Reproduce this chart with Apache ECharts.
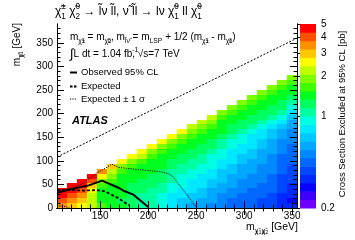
<!DOCTYPE html>
<html><head><meta charset="utf-8">
<script src="https://cdn.jsdelivr.net/npm/echarts@6/dist/echarts.min.js"></script>
<style>html,body{margin:0;padding:0;background:#fff}#c{width:355px;height:240px}</style>
</head><body><div id="c"></div>
<script>
// ---- data ----
const xBinCenters = [110.2,120.6,131.0,141.5,151.9,162.3,172.7,183.1,193.5,204.0,214.4,224.8,235.2,245.6,256.0,266.5,276.9,287.3,297.7,308.1,318.5,329.0,339.4,349.8];
const yBinCenters = [5.2,15.6,26.0,36.5,46.9,57.3,67.7,78.1,88.5,99.0,109.4,119.8,130.2,140.6,151.0,161.5,171.9,182.3,192.7,203.1,213.5,224.0,234.4,244.8,255.2,265.6,276.0];
const binWidth = 10.42;
// excluded cross section [pb], one array per x bin, from lowest y bin upward
const xsecExcluded = [
 [3.5,4.0,4.6,4.7],
 [3.0,3.5,4.0,4.6,4.7],
 [2.6,3.0,3.5,4.0,4.6,4.7],
 [2.2,2.25,2.3,2.6,3.0,4.0,4.6],
 [1.65,1.45,1.45,1.5,1.65,1.95,2.6,3.5],
 [1.45,1.42,1.44,1.45,1.5,1.68,1.93,2.25,3.0],
 [1.4,1.3,1.38,1.42,1.44,1.46,1.5,1.65,1.9,2.6],
 [1.25,1.24,1.26,1.28,1.3,1.4,1.44,1.48,1.66,1.92,2.55],
 [1.08,1.1,1.12,1.2,1.25,1.3,1.38,1.44,1.5,1.67,2.2,2.6],
 [1.05,1.06,1.08,1.12,1.2,1.25,1.3,1.38,1.44,1.5,1.67,1.93,2.6],
 [0.92,0.94,0.96,1.05,1.1,1.2,1.25,1.3,1.38,1.44,1.5,1.67,1.93,2.55],
 [0.8,0.8,0.82,0.92,0.95,1.04,1.08,1.12,1.22,1.28,1.4,1.46,1.67,1.93,2.5],
 [0.69,0.7,0.78,0.82,0.9,0.93,0.96,1.05,1.1,1.2,1.28,1.4,1.46,1.67,1.93,2.5],
 [0.6,0.67,0.7,0.78,0.8,0.84,0.9,0.95,1.05,1.1,1.2,1.28,1.4,1.46,1.67,1.93,2.2],
 [0.58,0.62,0.67,0.7,0.77,0.8,0.84,0.9,0.95,1.05,1.1,1.2,1.28,1.4,1.46,1.67,1.93,2.2],
 [0.52,0.58,0.6,0.62,0.67,0.7,0.78,0.82,0.9,0.93,0.96,1.08,1.2,1.28,1.4,1.46,1.67,1.93,2.2],
 [0.5,0.52,0.54,0.58,0.62,0.66,0.69,0.72,0.78,0.82,0.9,0.95,1.05,1.1,1.25,1.38,1.44,1.5,1.67,1.93],
 [0.44,0.46,0.5,0.53,0.58,0.6,0.62,0.67,0.7,0.77,0.8,0.84,0.9,0.95,1.08,1.2,1.28,1.4,1.46,1.67,1.93],
 [0.44,0.45,0.46,0.5,0.52,0.54,0.58,0.6,0.62,0.67,0.7,0.78,0.82,0.9,0.95,1.08,1.2,1.28,1.4,1.46,1.67,1.93],
 [0.43,0.44,0.45,0.46,0.5,0.52,0.54,0.58,0.6,0.62,0.67,0.7,0.77,0.8,0.84,0.92,1.08,1.2,1.28,1.4,1.46,1.67,1.93],
 [0.38,0.4,0.43,0.45,0.46,0.49,0.51,0.53,0.55,0.58,0.6,0.62,0.67,0.7,0.78,0.82,0.92,1.08,1.2,1.28,1.4,1.46,1.67,1.93],
 [0.37,0.38,0.4,0.43,0.44,0.45,0.47,0.49,0.51,0.53,0.55,0.58,0.6,0.62,0.67,0.7,0.8,0.92,1.08,1.2,1.28,1.4,1.46,1.67,1.93],
 [0.32,0.33,0.34,0.37,0.38,0.39,0.4,0.43,0.44,0.45,0.47,0.5,0.52,0.54,0.58,0.62,0.67,0.8,0.92,1.08,1.2,1.28,1.4,1.46,1.67,1.93],
 [0.32,0.29,0.32,0.33,0.34,0.37,0.38,0.39,0.4,0.43,0.44,0.45,0.47,0.5,0.52,0.54,0.58,0.62,0.67,0.8,0.92,1.08,1.22,1.4,1.46,1.67,1.9]
];
const observed = [[105,32],[120,40],[138,48],[152,58],[169,43],[175,36],[184,29],[200,2]];
const expected = [[105,38],[120,38],[133,37],[146,38],[155,35],[168,22],[180,6]];
const expectedPlus = [[105,35],[120,42],[132,52],[146,74],[152,80],[162,93],[169,86],[188,82],[212,77],[221,73],[226,66],[250,2]];
const expectedMinus = [[105,5],[114,3],[118,0]];
const kinematicLine = [[105,108],[355,360]];
const xTickLabels = [150,200,250,300,350];
const yTickLabels = [0,50,100,150,200,250,300,350];
const zTickLabels = [0.2,1,2,3,4,5];
const zRange = [0.2,5];
const legendNames = ['Observed 95% CL', 'Expected', 'Expected ± 1 σ'];
const palette = ['#6f00ff','#3d00ff','#0a00ff','#0028ff','#0048ff','#0068ff','#0088ff','#00a8ff','#00c8ff','#00e8ff','#00ffe0','#00ffa0','#00ff60','#00ff20','#40ff00','#80ff00','#c0ff00','#ffff00','#ffc800','#ff9000','#ff5000','#ff0000'];

// ---- build ----
const FF = '"Liberation Sans", Arial, Helvetica, sans-serif';
const lz0 = Math.log10(zRange[0]), lz1 = Math.log10(zRange[1]);
const step = (lz1 - lz0) / palette.length;
const pieces = palette.map((c, k) => ({gte: lz0 + k*step, lt: lz0 + (k+1)*step + (k === palette.length-1 ? 1 : 0), color: c}));
pieces[0].gte = -5;
const heatData = [];
xsecExcluded.forEach((col, j) => col.forEach((v, i) => heatData.push([xBinCenters[j], yBinCenters[i], Math.log10(v)])));
const barData = palette.map((c, k) => [lz0 + k*step, lz0 + (k+1)*step, lz0 + (k+0.5)*step]);
const range = (a, b, s) => { const r = []; for (let v = a; v <= b + 1e-9; v += s) r.push(v); return r; };

function rich(fs) {
  const L = Math.round(fs * 1.5);
  const s = Math.round(fs * 0.68 * 10) / 10, ss = Math.round(fs * 0.52 * 10) / 10;
  return {
    n: {fontSize: fs, lineHeight: L, fontFamily: FF, fill: '#000'},
    int: {fontSize: fs * 1.3, lineHeight: L, fontFamily: FF, fill: '#000'},
    sup: {fontSize: s, lineHeight: s, verticalAlign: 'top', fontFamily: FF, fill: '#000', width: 0.01},
    sub: {fontSize: s, lineHeight: s, verticalAlign: 'bottom', fontFamily: FF, fill: '#000'},
    subsup: {fontSize: ss, lineHeight: L * 0.75, verticalAlign: 'bottom', fontFamily: FF, fill: '#000', width: 0.01},
    subsub: {fontSize: ss, lineHeight: ss, verticalAlign: 'bottom', fontFamily: FF, fill: '#000'},
    bi: {fontSize: fs, lineHeight: L, fontFamily: FF, fontWeight: 'bold', fontStyle: 'italic', fill: '#000'}
  };
}
const CHI = 'χ\u0303', LT = 'l\u0303', NUT = 'ν\u0303';
function txt(x, y, text, fs, opts) {
  return Object.assign({type: 'text', x: x, y: y, z: 100,
    style: {text: text, rich: rich(fs), fontSize: fs, fontFamily: FF, fill: '#000',
      align: (opts && opts.align) || 'left', verticalAlign: 'middle'}}, (opts && opts.rot) ? {rotation: opts.rot} : {});
}
function sample(y, width, dash) {
  return {type: 'line', z: 100, shape: {x1: 70, y1: y, x2: 77, y2: y}, style: {stroke: '#000', lineWidth: width, lineDash: dash || null}};
}
const titleText = `{n|${CHI}}{sup|±}{sub|1}{n| ${CHI}}{sup|0}{sub|2}{n| → ${LT}ν ${LT}l, ${NUT} ${LT}l → lν ${CHI}}{sup|0}{sub|1}{n| ll ${CHI}}{sup|0}{sub|1}`;
const eqText = `{n|m}{sub|${CHI}}{subsup|±}{subsub|1}{n| = m}{sub|${CHI}}{subsup|0}{subsub|2}{n|, m}{sub|${LT}${NUT}}{n| = m}{sub|LSP}{n| + 1/2 (m}{sub|${CHI}}{subsup|±}{subsub|1}{n| - m}{sub|${CHI}}{subsup|0}{subsub|1}{n|)}`;
const lumiText = `{int|∫}{n|L dt = 1.04 fb}{sup|-1}{n|, √s=7 TeV}`;
const xTitle = `{n|m}{sub|${CHI}}{subsup|±}{subsub|1}{sub|${CHI}}{subsup|0}{subsub|2}{n| [GeV]}`;
const yTitle = `{n|m}{sub|${CHI}}{subsup|0}{subsub|1}{n| [GeV]}`;

const axLine = {show: true, lineStyle: {color: '#000', width: 1}};
const lbl = {color: '#000', fontSize: 10, fontFamily: FF};
function xa(pos, major, showLbl) {
  return {type: 'value', gridIndex: 0, position: pos, min: 105, max: 355, z: 5,
    axisLine: axLine, splitLine: {show: false},
    axisTick: {show: true, inside: true, length: major ? 7 : 3.5, lineStyle: {color: '#000'}, customValues: major ? xTickLabels : range(110, 350, 10)},
    axisLabel: showLbl ? Object.assign({customValues: xTickLabels, margin: 3}, lbl) : {show: false}};
}
function ya(pos, major, showLbl) {
  return {type: 'value', gridIndex: 0, position: pos, min: 0, max: 390, z: 5,
    axisLine: axLine, splitLine: {show: false},
    axisTick: {show: true, inside: true, length: major ? 7 : 3.5, lineStyle: {color: '#000'}, customValues: major ? yTickLabels : range(10, 380, 10)},
    axisLabel: showLbl ? Object.assign({customValues: yTickLabels, margin: 4}, lbl) : {show: false}};
}

const chart = echarts.init(document.getElementById('c'), null, {renderer: 'canvas'});
chart.setOption({
  animation: false,
  backgroundColor: '#fff',
  grid: [{left: 57, top: 24, width: 240, height: 184}, {left: 300, top: 24, width: 16, height: 184}],
  xAxis: [xa('bottom', true, true), xa('bottom', false, false), xa('top', true, false), xa('top', false, false),
    {type: 'value', gridIndex: 1, min: 0, max: 1, show: false}],
  yAxis: [ya('left', true, true), ya('left', false, false), ya('right', true, false), ya('right', false, false),
    {type: 'value', gridIndex: 1, position: 'right', min: lz0, max: lz1, z: 5,
     axisLine: {show: false}, splitLine: {show: false},
     axisTick: {show: true, inside: true, length: 3, lineStyle: {color: '#000'}, customValues: zTickLabels.map(v => Math.log10(v))},
     axisLabel: {customValues: zTickLabels.map(v => Math.log10(v)), margin: 5, color: '#000', fontSize: 10, fontFamily: FF,
       formatter: v => String(+Math.pow(10, v).toPrecision(2))}}],
  visualMap: {type: 'piecewise', show: false, dimension: 2, seriesIndex: [0, 1], pieces: pieces},
  series: [
    {type: 'custom', xAxisIndex: 0, yAxisIndex: 0, z: 1, clip: true, data: heatData,
     renderItem: (p, api) => {
       const x = api.value(0), y = api.value(1);
       const a = api.coord([x - binWidth/2, y - binWidth/2]), b = api.coord([x + binWidth/2, y + binWidth/2]);
       const x0 = Math.round(a[0]), x1 = Math.round(b[0]), y0 = Math.round(b[1]), y1 = Math.round(a[1]);
       return {type: 'rect', shape: {x: x0, y: y0, width: x1 - x0, height: y1 - y0}, style: {fill: api.visual('color')}};
     }},
    {type: 'custom', xAxisIndex: 4, yAxisIndex: 4, z: 1, data: barData,
     renderItem: (p, api) => {
       const a = api.coord([0, api.value(0)]), b = api.coord([1, api.value(1)]);
       return {type: 'rect', shape: {x: a[0], y: b[1], width: b[0] - a[0], height: a[1] - b[1] + 0.5}, style: {fill: api.visual('color')}};
     }},
    {type: 'line', name: 'kinematic', data: kinematicLine, symbol: 'none', z: 3, silent: true,
     lineStyle: {color: '#000', width: 1, type: [2, 1.6]}},
    {type: 'line', name: legendNames[2], data: expectedPlus, symbol: 'none', z: 3,
     lineStyle: {color: '#000', width: 1, type: [1.2, 1.2]}},
    {type: 'line', name: legendNames[2], data: expectedMinus, symbol: 'none', z: 3,
     lineStyle: {color: '#000', width: 1, type: [1.2, 1.2]}},
    {type: 'line', name: legendNames[1], data: expected, symbol: 'none', z: 3,
     lineStyle: {color: '#000', width: 1.8, type: [3, 2]}},
    {type: 'line', name: legendNames[0], data: observed, symbol: 'none', z: 4,
     lineStyle: {color: '#000', width: 2}}
  ],
  graphic: [
    txt(55, 12, titleText, 12),
    txt(70, 37, eqText, 10),
    txt(70, 54, lumiText, 10),
    sample(72.5, 2), txt(81, 72.5, legendNames[0], 9.5),
    sample(86.5, 1.8, [2.5, 1.5]), txt(81, 86.5, legendNames[1], 9.5),
    sample(99, 1, [1.2, 1.2]), txt(81, 99, legendNames[2], 9.5),
    txt(72, 121, '{bi|ATLAS}', 11),
    txt(298, 227, xTitle, 10.5, {align: 'right'}),
    txt(17, 23, yTitle, 10, {align: 'right', rot: Math.PI/2}),
    txt(342, 114, 'Cross Section Excluded at 95% CL [pb]', 9.5, {align: 'center', rot: Math.PI/2})
  ]
});
</script></body></html>
